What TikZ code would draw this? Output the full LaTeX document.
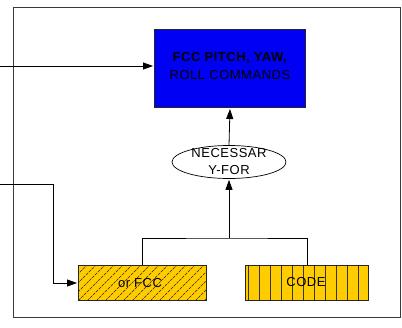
\documentclass[tikz,border=0pt]{standalone}
\usepackage{fontspec}
\setmainfont{Liberation Sans}
\newfontfamily\diagfont[LetterSpace=4]{Liberation Sans}
\usepackage{xcolor}
\usetikzlibrary{
    arrows.meta,
    positioning,
    shapes.geometric
}
\definecolor{cmdblue}{HTML}{0000F2}
\definecolor{codeyellow}{HTML}{FFCC00}
\definecolor{framegray}{HTML}{3A3A3A}

\begin{document}
\begin{tikzpicture}[
    x=1pt, y=-1pt,
    block/.style={draw=black!85, line width=1pt, inner sep=0pt, anchor=north west},
    hatchbox/.style={block, fill=codeyellow, path picture={
        \foreach \k in {0,...,19}
            \draw[line width=0.5pt, dash pattern=on 3pt off 1pt]
                ([xshift=\k*9pt-36pt]path picture bounding box.south west) -- ++(40pt,40pt);}},
    stripebox/.style={block, fill=codeyellow, path picture={
        \foreach \k in {0,...,10}
            \draw[line width=1pt, black!80]
                ([xshift=3pt+\k*11pt]path picture bounding box.south west) --
                ([xshift=3pt+\k*11pt]path picture bounding box.north west);}},
    lbl/.style={font=\diagfont\fontsize{13}{18}\selectfont, inner sep=1pt},
    flow/.style={-{Triangle[length=10pt,width=7pt]}, line width=0.8pt, shorten >=1pt},
    link/.style={line width=0.8pt},
]
    \fill[white] (0,0) rectangle (402,327);
    \useasboundingbox (0,0) rectangle (402,327);

    % outer frame
    \draw[framegray, line width=1pt] (13,7) rectangle (400,317);

    % blocks
    \node[block, fill=cmdblue, minimum width=151pt, minimum height=78pt] (cmd) at (154,29) {};
    \node[lbl, align=center] (cmdtxt) at (230,66) {\textbf{FCC PITCH, YAW,}\\ROLL COMMANDS};
    \node[draw, ellipse, line width=0.7pt, minimum width=114pt, minimum height=33pt] (nec) at (229,162) {};
    \node[lbl] (necup) at (229,153) {NECESSAR};
    \node[lbl, fill=white] (neclow) at (229,170) {Y-FOR};
    \node[hatchbox, minimum width=128pt, minimum height=35pt] (fcc) at (78,265) {};
    \node[lbl] (fcctxt) at (140,283) {or FCC};
    \node[stripebox, minimum width=123pt, minimum height=35pt] (code) at (245,265) {};
    \node[lbl] (codetxt) at (306,282) {CODE};

    % connectors
    \coordinate (inA) at (0,66);
    \coordinate (inB) at (0,184);
    \coordinate (join) at (229,238);
    \draw[flow] (inA) -- (inA -| cmd.west);
    \draw[flow] (inB) -| ([xshift=-25pt]fcc.west) -- (fcc.west);
    \draw[link] (fcc.north) |- (join) -| (code.north);
    \draw[flow] (join) -- (nec.south);
    \draw[flow] (nec.north) -- (cmd.south);

\end{tikzpicture}
\end{document}
